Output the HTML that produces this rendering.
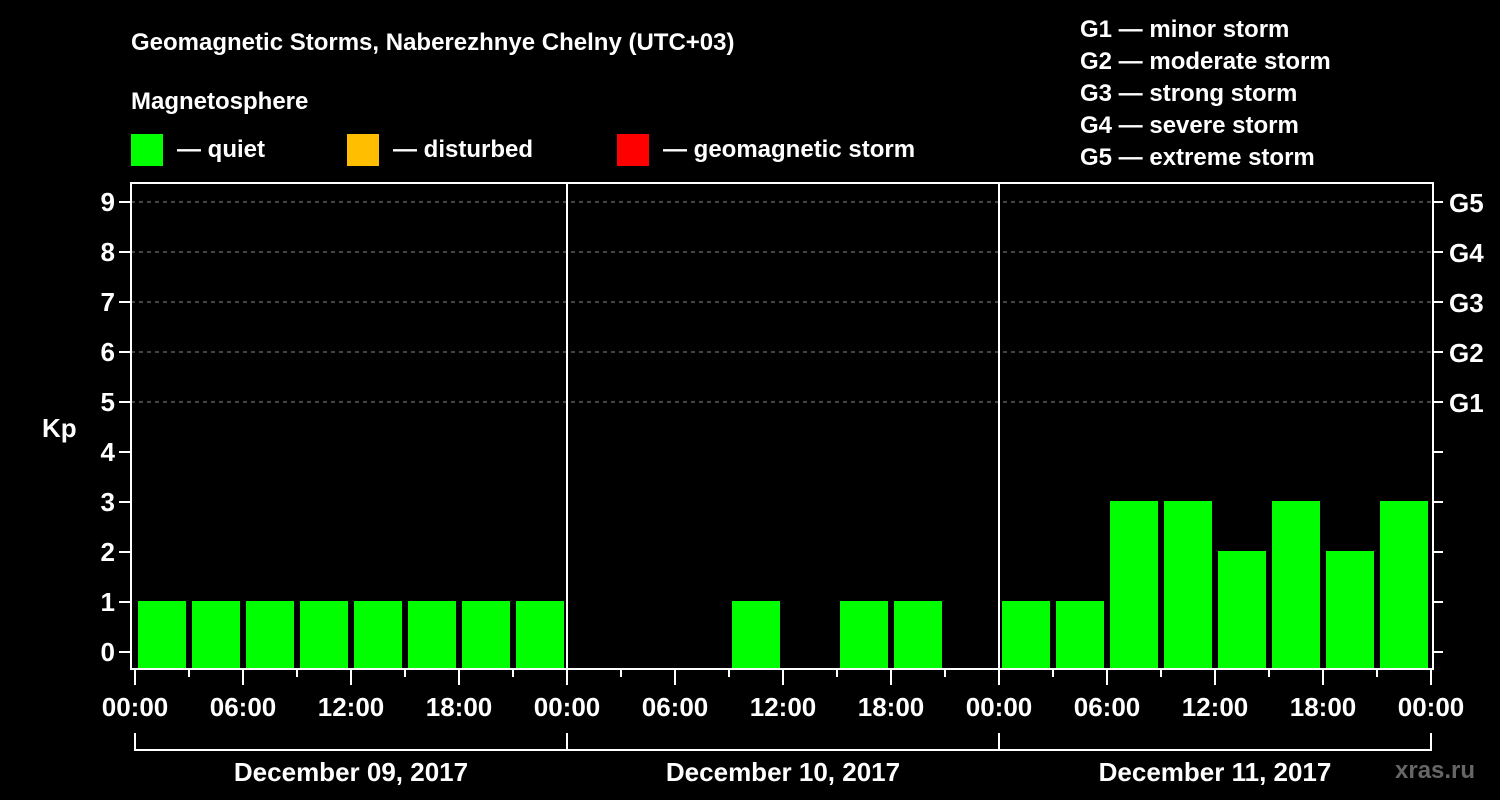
<!DOCTYPE html>
<html><head><meta charset="utf-8"><style>
body{margin:0;background:#000;}
svg{display:block;font-family:"Liberation Sans",Arial,sans-serif;font-weight:bold;}
</style></head><body>
<svg id="c" width="1500" height="800" viewBox="0 0 1500 800">
<rect width="1500" height="800" fill="#000"/>
<text x="131" y="50" fill="#fff" font-size="24">Geomagnetic Storms, Naberezhnye Chelny (UTC+03)</text>
<text x="131" y="109" fill="#fff" font-size="24">Magnetosphere</text>
<g><rect x="131" y="134" width="32" height="32" fill="#00ff00"/><text x="177" y="157" fill="#fff" font-size="24">— quiet</text></g>
<g><rect x="347" y="134" width="32" height="32" fill="#ffbf00"/><text x="393" y="157" fill="#fff" font-size="24">— disturbed</text></g>
<g><rect x="617" y="134" width="32" height="32" fill="#ff0000"/><text x="663" y="157" fill="#fff" font-size="24">— geomagnetic storm</text></g>
<g fill="#fff" font-size="24">
<text x="1080" y="37">G1 — minor storm</text><text x="1080" y="69">G2 — moderate storm</text><text x="1080" y="101">G3 — strong storm</text><text x="1080" y="133">G4 — severe storm</text><text x="1080" y="165">G5 — extreme storm</text>
</g>
<text x="42" y="437" fill="#fff" font-size="26">Kp</text>
<text x="1395" y="778" fill="#666" font-size="24">xras.ru</text>
<g id="plot"></g>
</svg>
<script>
const days=["December 09, 2017","December 10, 2017","December 11, 2017"];
const kp=[1,1,1,1,1,1,1,1, 0,0,0,1,0,1,1,0, 1,1,3,3,2,3,2,3];
const yTicks=[0,1,2,3,4,5,6,7,8,9];
const gLabels=["G1","G2","G3","G4","G5"];
const hourLabels=["00:00","06:00","12:00","18:00"];
const NS="http://www.w3.org/2000/svg";
const g=document.getElementById('plot');
const X0=135,SLOT=54,Y0=652,UNIT=50,BOTTOM=668,TOP=183,LEFT=131,RIGHT=1433;
const xs=i=>X0+i*SLOT, ys=v=>Y0-v*UNIT;
function mk(t,a){const e=document.createElementNS(NS,t);for(const k in a)e.setAttribute(k,a[k]);g.appendChild(e);return e;}
// grid
yTicks.forEach(v=>{
 if(v>=5){const l=mk('line',{x1:LEFT,x2:RIGHT,y1:ys(v),y2:ys(v),stroke:'#888','stroke-dasharray':'4,4','stroke-width':1});
 
 }
 const t=mk('line',{x1:LEFT-12,x2:LEFT,y1:ys(v),y2:ys(v),stroke:'#fff','stroke-width':2});
 
 
 const t2=mk('line',{x1:RIGHT,x2:RIGHT+10,y1:ys(v),y2:ys(v),stroke:'#fff','stroke-width':2});
 
 
 const tx=mk('text',{x:LEFT-16,y:ys(v)+9,fill:'#fff','font-size':26,'text-anchor':'end'});tx.textContent=v;
 
 
 if(v>=5){const gt=mk('text',{x:RIGHT+16,y:ys(v)+10,fill:'#fff','font-size':26});gt.textContent=gLabels[v-5];
 
 }
});
// bars
kp.forEach((v,i)=>{
 if(v<=0)return;
 const c=v>=5?'#ff0000':(v>=4?'#ffbf00':'#00ff00');
 const b=mk('rect',{x:xs(i)+3,y:ys(v)-1,width:SLOT-6,height:BOTTOM-ys(v)+1,fill:c});
 
 
});
// frame
const f=mk('rect',{x:LEFT,y:TOP,width:RIGHT-LEFT,height:BOTTOM-TOP+1,fill:'none',stroke:'#fff','stroke-width':2});


days.forEach((d,di)=>{
 const x=xs(di*8);
 if(di>0){const s=mk('line',{x1:x,x2:x,y1:TOP,y2:BOTTOM,stroke:'#fff','stroke-width':2});
 
 }
 const br=mk('path',{d:`M${x} 733 V750 H${xs(di*8+8)}`+(di==2?' V733':''),stroke:'#fff','stroke-width':2,fill:'none'});
 
 
 const dt=mk('text',{x:x+216,y:781,fill:'#fff','font-size':26,'text-anchor':'middle'});dt.textContent=d;
 
 
});
for(let i=0;i<=24;i++){
 const major=i%2==0;
 const t=mk('line',{x1:xs(i),x2:xs(i),y1:BOTTOM,y2:BOTTOM+(major?17:9),stroke:'#fff','stroke-width':2});
 
 
 if(major){const tx=mk('text',{x:xs(i),y:716,fill:'#fff','font-size':26,'text-anchor':'middle'});tx.textContent=hourLabels[(i/2)%4];
 
 }
}
</script>
</body></html>
